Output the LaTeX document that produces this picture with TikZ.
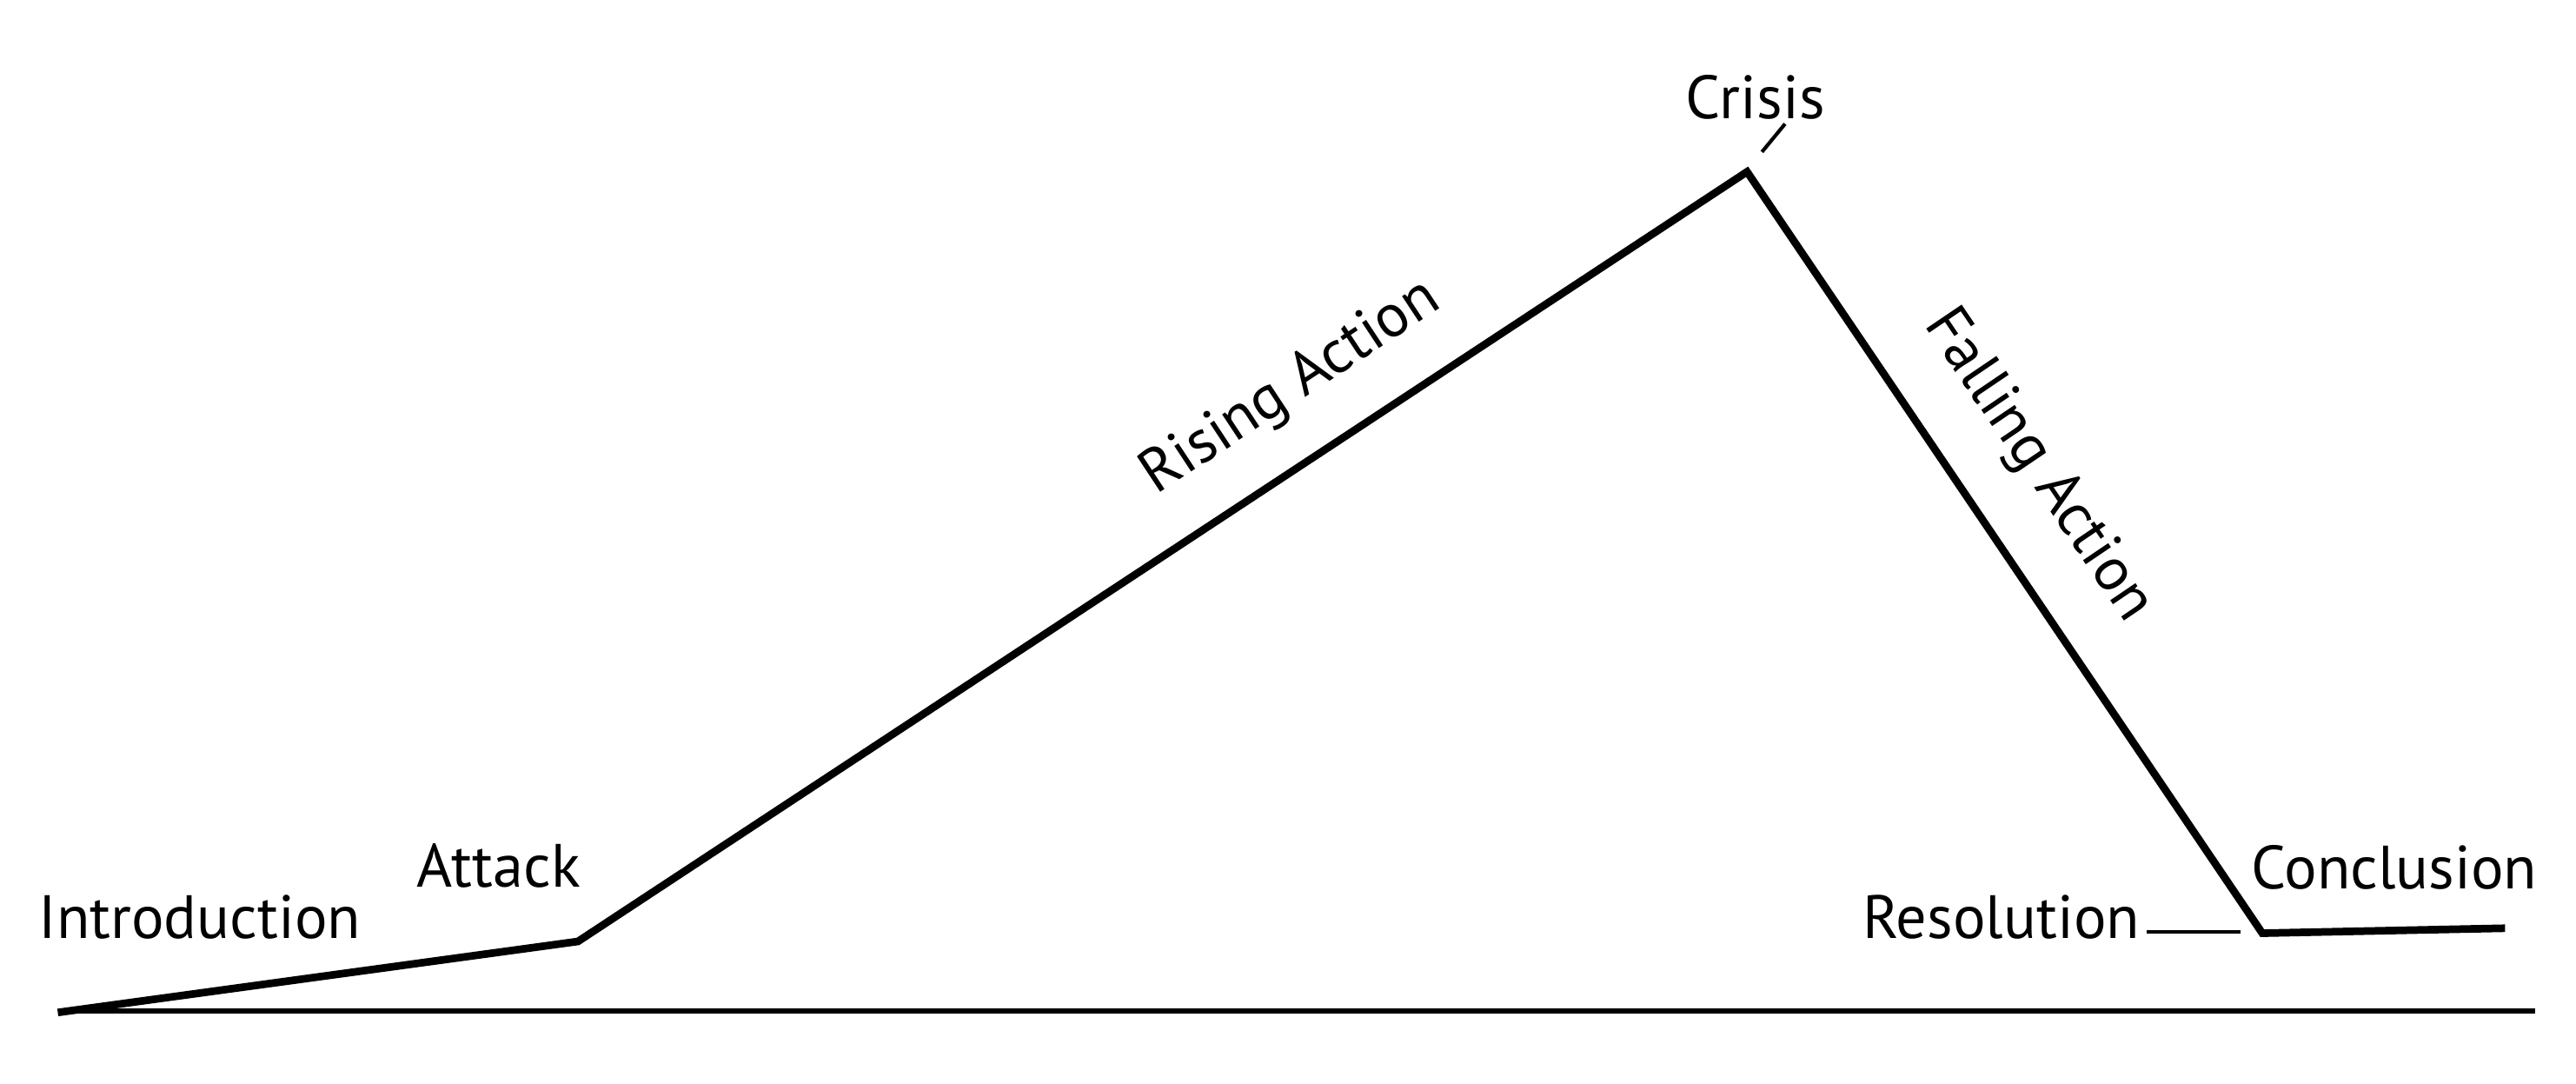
\documentclass[tikz,border=0pt]{standalone}
\usepackage{fontspec}
\setmainfont{PT Sans}
\usepackage{tikz}

\begin{document}
\begin{tikzpicture}[x=1pt,y=1pt,yscale=-1,xscale=1,
  lbl/.style={inner sep=0.75pt, font=\fontsize{37}{40}\selectfont},
  plotline/.style={line width=4.6pt},
  tick/.style={line width=2.2pt}]
\useasboundingbox (0,0) rectangle (1560,656);

%Points of the plot
\coordinate (intro) at (35,613);
\coordinate (attack) at (350,570);
\coordinate (crisis) at (1058,104);
\coordinate (resol) at (1370,565);
\coordinate (concl) at (1517,562);
\coordinate (axisL) at (35,612);
\coordinate (axisR) at (1535,612);

%Straight Lines [axis]
\draw [line width=3pt] (axisL) -- (axisR) ;
%Straight Lines [plot]
\draw [plotline] (intro) -- (attack) -- (crisis) -- (resol) -- (concl) ;

% Text Node
\draw (121,568) node [anchor=base][lbl] (tIntro) {Introduction};
% Text Node
\draw (302,537) node [anchor=base][lbl] (tAttack) {Attack};
% Text Node
\draw (1063,72) node [anchor=base][lbl] (tCrisis) {Crisis};
% Text Node
\draw (1212,568) node [anchor=base][lbl] (tResol) {Resolution};
% Text Node
\draw (1450,538) node [anchor=base][lbl] (tConcl) {Conclusion};
% Text Node
\draw (782,235) node [lbl, rotate=33.4] (tRising) {Rising Action};
% Text Node
\draw (1234,282) node [lbl, rotate=-55.9] (tFalling) {Falling Action};

%Straight Lines [ticks]
\coordinate (crisisA) at (1067,92);
\coordinate (crisisB) at (1081,75);
\draw [tick] (crisisA) -- (crisisB) ;
\coordinate (resolA) at (1300,564);
\coordinate (resolB) at (1357,564);
\draw [tick] (resolA) -- (resolB) ;

\end{tikzpicture}
\end{document}
